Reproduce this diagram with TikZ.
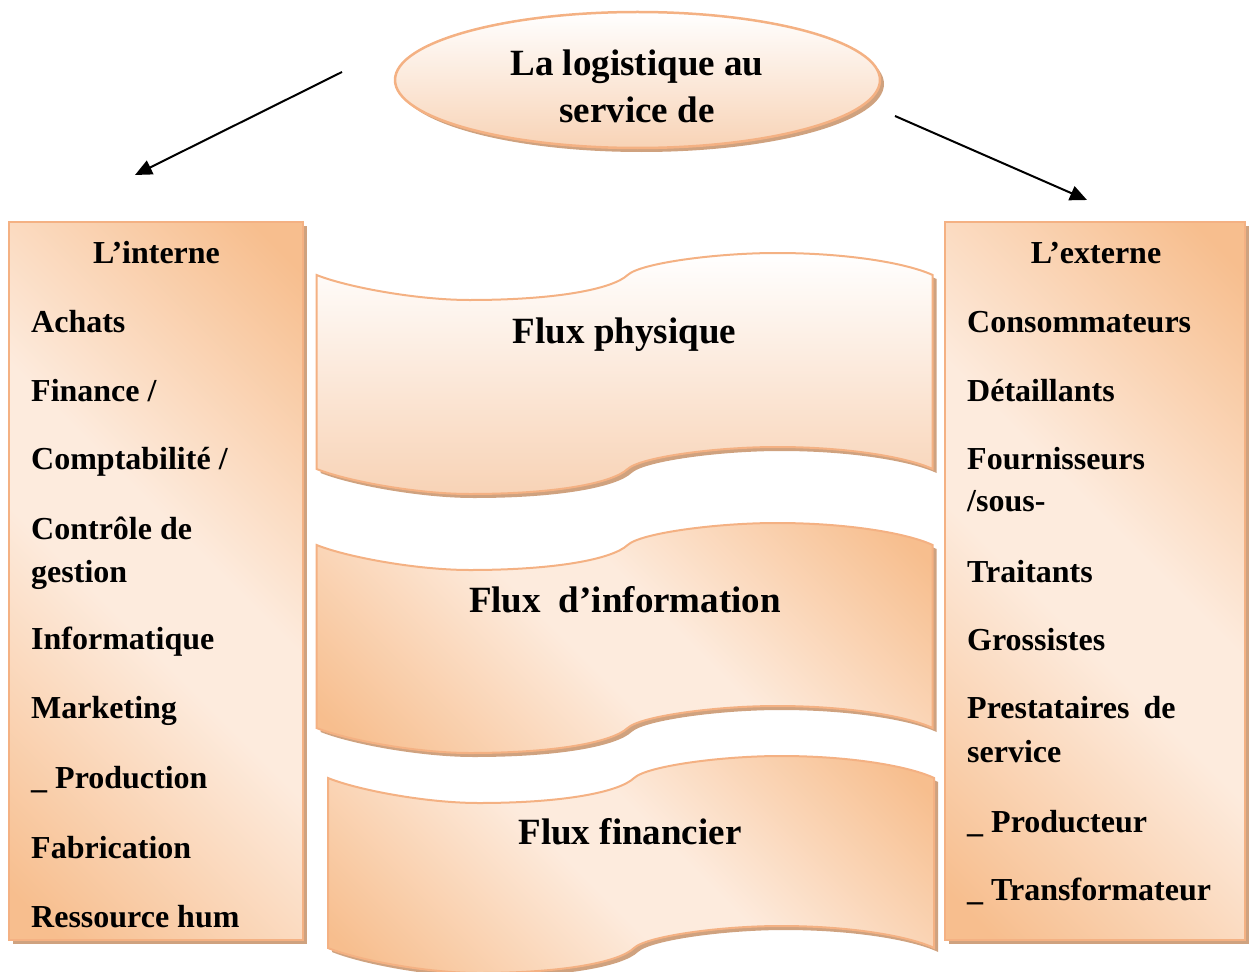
\documentclass[tikz,border=0pt]{standalone}
\usepackage{fontspec}
\setmainfont{Liberation Serif}
\usetikzlibrary{shapes.geometric,arrows.meta,shadows}

\definecolor{peach}{HTML}{F7BE8E}
\definecolor{cream}{HTML}{FDEBDD}
\definecolor{rim}{HTML}{F4B183}
\definecolor{tanshadow}{HTML}{CFA27F}
\definecolor{blush}{HTML}{F8D3B6}

% peach at both ends with a broad cream band in the middle
\pgfdeclarehorizontalshading{peachband}{100bp}{
  color(0bp)=(peach); color(18bp)=(peach); color(45bp)=(cream);
  color(55bp)=(cream); color(82bp)=(peach); color(100bp)=(peach)}

% one wavy banner, width 616, height #1 (local units, y pointing down)
\newcommand\wavepath[1]{
  (0,0) .. controls (30,12) and (100,25) .. (153,25)
  .. controls (240,25) and (296,14) .. (311,0)
  .. controls (324,-12) and (400,-22) .. (460,-22)
  .. controls (530,-22) and (590,-12) .. (616,0)
  -- (616,#1)
  .. controls (590,#1-12) and (530,#1-22) .. (460,#1-22)
  .. controls (400,#1-22) and (324,#1-12) .. (311,#1)
  .. controls (296,#1+14) and (240,#1+25) .. (153,#1+25)
  .. controls (100,#1+25) and (30,#1+12) .. (0,#1) -- cycle}

\tikzset{
  castshadow/.style={general shadow={fill=tanshadow, shadow xshift=4pt, shadow yshift=-4pt}},
  diagfill/.style={shading=peachband, shading angle=45},
  panel/.style={rectangle, draw=rim, line width=2pt, inner sep=0pt, outer sep=0pt,
    minimum width=294pt, minimum height=718pt, diagfill, castshadow},
  titleoval/.style={ellipse, draw=rim, line width=2.5pt, inner sep=0pt,
    minimum width=485pt, minimum height=136pt, top color=white, bottom color=blush, castshadow},
  banner/.style={draw=rim, line width=2pt, castshadow},
  item/.style={anchor=base west, inner sep=0pt, font=\bfseries\fontsize{32}{38}\selectfont},
  head/.style={anchor=base, inner sep=0pt, font=\bfseries\fontsize{32}{38}\selectfont},
  big/.style={anchor=base, inner sep=0pt, font=\bfseries\fontsize{37}{44}\selectfont},
  conn/.style={line width=2pt, -{Triangle[length=17pt,width=15pt]}},
}

\begin{document}
\begin{tikzpicture}[x=1pt, y=-1pt]
\useasboundingbox (0,0) rectangle (1249,971);

% title oval
\node[titleoval] (title) at (637.5,80) {};
\node[big] (t1) at (637,76) {La logistique au};
\node[big] (t2) at (637,123) {service de};

% arrows towards both sides
\coordinate (lfrom) at (342,72);
\coordinate (lto) at (135,175);
\coordinate (rfrom) at (895,116);
\coordinate (rto) at (1087,200);
\draw[conn] (lfrom) -- (lto);
\draw[conn] (rfrom) -- (rto);

% side panels
\node[panel] (interne) at (156,581) {};
\node[panel, minimum width=300pt] (externe) at (1095,581) {};

% left column
\node[head] (li0) at (156.5,263) {L’interne};
\node[item] (li1) at (31,332) {Achats};
\node[item] (li2) at (31,401) {Finance /};
\node[item] (li3) at (31,469) {Comptabilité /};
\node[item] (li4) at (31,539) {Contrôle de};
\node[item] (li5) at (31,582) {gestion};
\node[item] (li6) at (31,649) {Informatique};
\node[item] (li7) at (31,718) {Marketing};
\node[item] (li8) at (31,788) {\textunderscore{} Production};
\node[item] (li9) at (31,858) {Fabrication};
\node[item] (li10) at (31,927) {Ressource hum};

% right column
\node[head] (re0) at (1096,263) {L’externe};
\node[item] (re1) at (967,332) {Consommateurs};
\node[item] (re2) at (967,401) {Détaillants};
\node[item] (re3) at (967,469) {Fournisseurs};
\node[item] (re4) at (967,511) {/sous-};
\node[item] (re5) at (967,582) {Traitants};
\node[item] (re6) at (967,650) {Grossistes};
\node[item] (re7) at (967,718) {Prestataires\hspace{14pt}de};
\node[item] (re8) at (967,762) {service};
\node[item] (re9) at (967,832) {\textunderscore{} Producteur};
\node[item] (re10) at (967,900) {\textunderscore{} Transformateur};

% the three flows
\begin{scope}[shift={(316.6,275)}]
  \path[banner, top color=white, bottom color=blush] \wavepath{194};
\end{scope}
\begin{scope}[shift={(316.6,545)}]
  \path[banner, diagfill] \wavepath{183};
\end{scope}
\begin{scope}[shift={(328,778)}, xscale=0.984]
  \path[banner, diagfill] \wavepath{170};
\end{scope}

\node[big] (fphys) at (624.5,343) {Flux physique};
\node[big] (finfo) at (625,612) {Flux\hspace{18pt}d’information};
\node[big] (ffin) at (630,844) {Flux financier};
\end{tikzpicture}
\end{document}
